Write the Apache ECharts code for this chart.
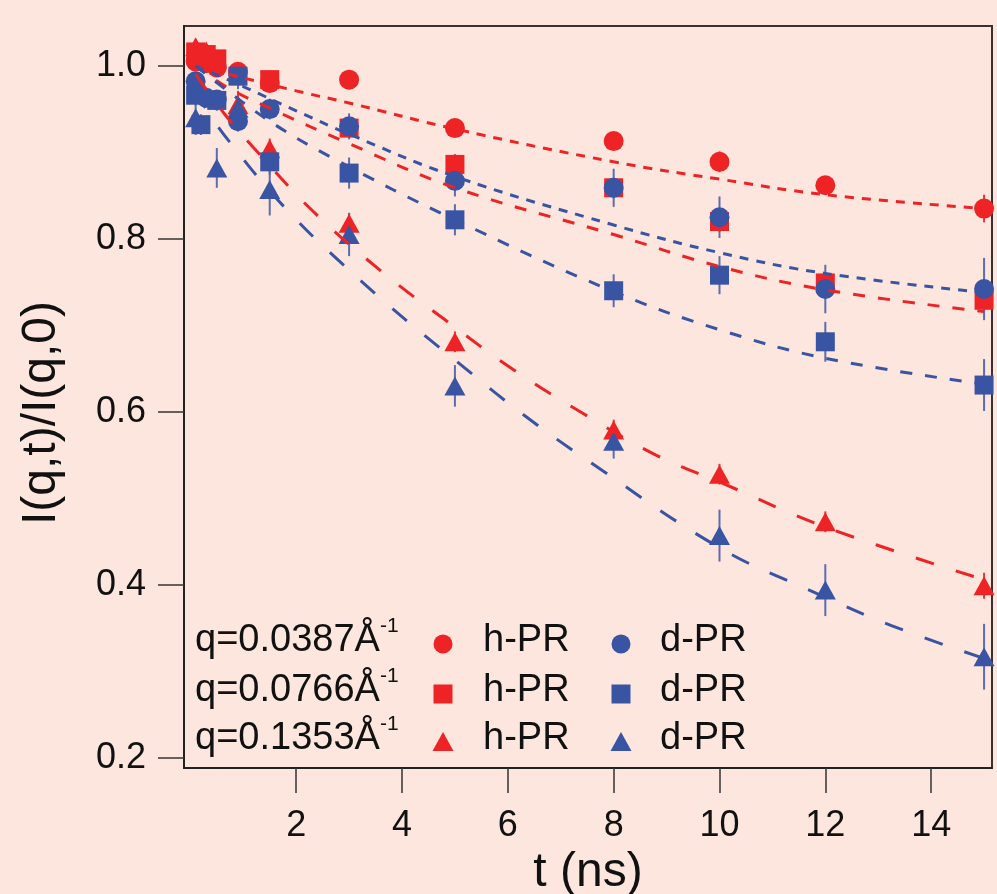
<!DOCTYPE html>
<html><head><meta charset="utf-8">
<script src="https://cdn.jsdelivr.net/npm/echarts@6/dist/echarts.min.js"></script>
<style>html,body{margin:0;padding:0;background:#FCE6DD;} #chart{width:997px;height:894px;}</style>
</head><body><div id="chart"></div>
<script>
// ---- data ----
const times = [0.1, 0.2, 0.3, 0.5, 0.9, 1.5, 3, 5, 8, 10, 12, 15];
const hPR_q1 = [1.005, null, 1.003, 0.998, 0.993, 0.980, 0.984, 0.928, 0.913, 0.889, 0.862, 0.835];
const hPR_q2 = [1.016, null, 1.013, 1.008, null, 0.984, 0.928, 0.886, 0.859, 0.820, 0.749, 0.729];
const hPR_q3 = [1.022, null, 1.017, null, 0.955, 0.904, 0.818, 0.681, 0.579, 0.528, 0.473, 0.399];
const dPR_q1 = [0.982, null, 0.963, 0.961, 0.936, 0.950, 0.930, 0.867, 0.859, 0.825, 0.742, 0.742];
const dPR_q2 = [0.966, 0.932, null, 0.960, 0.988, 0.889, 0.876, 0.822, 0.740, 0.758, 0.681, 0.631];
const dPR_q3 = [0.940, null, null, 0.882, 0.951, 0.857, 0.805, 0.630, 0.566, 0.457, 0.394, 0.317];
// error bar half-lengths
const hPR_q1_err = [0.008, 0, 0.008, 0.008, 0.008, 0.008, 0.010, 0.010, 0.010, 0.012, 0.010, 0.016];
const hPR_q2_err = [0.008, 0, 0.008, 0.008, 0, 0.010, 0.012, 0.012, 0.012, 0.012, 0.012, 0.015];
const hPR_q3_err = [0.008, 0, 0.008, 0, 0.012, 0.012, 0.012, 0.012, 0.012, 0.012, 0.012, 0.015];
const dPR_q1_err = [0.010, 0, 0.010, 0.010, 0.012, 0.012, 0.015, 0.018, 0.022, 0.024, 0.028, 0.036];
const dPR_q2_err = [0.012, 0.012, 0, 0.012, 0.015, 0.015, 0.018, 0.018, 0.019, 0.022, 0.023, 0.030];
const dPR_q3_err = [0.020, 0, 0, 0.023, 0.020, 0.030, 0.025, 0.024, 0.020, 0.030, 0.030, 0.038];
// fit curves
const fit_h1_t = [0.1, 1, 2, 3, 5, 8, 10, 12, 15];
const fit_h1_y = [1.000, 0.986, 0.971, 0.957, 0.927, 0.889, 0.869, 0.851, 0.835];
const fit_d1_t = [0.1, 1, 2, 3, 5, 8, 10, 12, 15];
const fit_d1_y = [1.000, 0.976, 0.948, 0.921, 0.872, 0.816, 0.784, 0.760, 0.738];
const fit_h2_t = [0.1, 0.7, 1.5, 3, 5, 8, 10, 12, 15];
const fit_h2_y = [1.000, 0.975, 0.951, 0.910, 0.859, 0.805, 0.768, 0.741, 0.716];
const fit_d2_t = [0.1, 1.4, 2.7, 5, 8, 10, 12, 15];
const fit_d2_y = [1.000, 0.940, 0.893, 0.822, 0.739, 0.695, 0.662, 0.632];
const fit_h3_t = [0.1, 0.65, 1.2, 2.3, 3.6, 4.8, 6.1, 7.4, 8.8, 10, 12, 15];
const fit_h3_y = [0.990, 0.944, 0.905, 0.833, 0.763, 0.707, 0.649, 0.599, 0.550, 0.519, 0.467, 0.406];
const fit_d3_t = [0.1, 0.46, 0.95, 1.35, 1.88, 2.45, 3.77, 5.02, 6.29, 7.6, 10, 11.77, 13.25, 15];
const fit_d3_y = [0.970, 0.935, 0.896, 0.866, 0.830, 0.795, 0.722, 0.659, 0.597, 0.540, 0.443, 0.392, 0.353, 0.315];
const xTicks = [2, 4, 6, 8, 10, 12, 14];
const yTicks = [0.2, 0.4, 0.6, 0.8, 1.0];
const legendRows = ['q=0.0387Å', 'q=0.0766Å', 'q=0.1353Å'];
const legendSup = '-1';
const legendNames = ['h-PR', 'd-PR'];

// ---- styling ----
const RED = '#EE2325', BLUE = '#3A54A4';
const RED_EB = '#EE3336', BLUE_EB = '#5A6DB0';
const FONT = '"Liberation Sans", Arial, Helvetica, sans-serif';

function pts(ys) { return times.map((t, i) => ys[i] == null ? null : [t, ys[i]]).filter(p => p); }
function errs(ys, es) { return times.map((t, i) => (ys[i] == null || !es[i]) ? null : [t, ys[i], es[i]]).filter(p => p); }
function line(ts, ys) { return ts.map((t, i) => [t, ys[i]]); }

function errSeries(ys, es, color) {
  return {
    type: 'custom', data: errs(ys, es), encode: { x: 0, y: 1 }, z: 2, silent: true,
    renderItem: function (params, api) {
      const x = api.value(0), y = api.value(1), e = api.value(2);
      const a = api.coord([x, y - e]), b = api.coord([x, y + e]);
      return { type: 'line', shape: { x1: a[0], y1: a[1], x2: b[0], y2: b[1] },
               style: { stroke: color, lineWidth: 2 } };
    }
  };
}
function scat(name, ys, sym, size, color) {
  return { name: name, type: 'scatter', data: pts(ys), symbol: sym, symbolSize: size, z: 2,
           itemStyle: { color: color, opacity: 1 } };
}
function fit(ts, ys, color, dash) {
  return { type: 'line', data: line(ts, ys), smooth: 0.4, showSymbol: false, symbol: 'none', z: 5, silent: true,
           lineStyle: { color: color, width: 3, type: dash } };
}

const series = [
  errSeries(hPR_q3, hPR_q3_err, RED_EB), scat('h-PR q3', hPR_q3, 'triangle', [21, 19], RED),
  errSeries(hPR_q1, hPR_q1_err, RED_EB), scat('h-PR q1', hPR_q1, 'circle', 20, RED),
  errSeries(hPR_q2, hPR_q2_err, RED_EB), scat('h-PR q2', hPR_q2, 'rect', 19, RED),
  errSeries(dPR_q3, dPR_q3_err, BLUE_EB), scat('d-PR q3', dPR_q3, 'triangle', [21, 19], BLUE),
  errSeries(dPR_q2, dPR_q2_err, BLUE_EB), scat('d-PR q2', dPR_q2, 'rect', 19, BLUE),
  errSeries(dPR_q1, dPR_q1_err, BLUE_EB), scat('d-PR q1', dPR_q1, 'circle', 20, BLUE),
  fit(fit_h1_t, fit_h1_y, RED, [9, 8]),
  fit(fit_d1_t, fit_d1_y, BLUE, [9, 8]),
  fit(fit_h2_t, fit_h2_y, RED, [12, 13]),
  fit(fit_d2_t, fit_d2_y, BLUE, [12, 13]),
  fit(fit_h3_t, fit_h3_y, RED, [19, 23]),
  fit(fit_d3_t, fit_d3_y, BLUE, [19, 23])
];

// legend graphics
const rowY = [644, 694, 742];
const colX = [443, 621];
const textX = [483, 660];
const graphic = [];
legendRows.forEach((txt, r) => {
  graphic.push({ type: 'text', x: 195, y: rowY[r] + 16, style: { text: txt, fontSize: 38, fontFamily: FONT, fill: '#111', align: 'left', verticalAlign: 'bottom' } });
  graphic.push({ type: 'text', x: 380, y: rowY[r] - 7, style: { text: legendSup, fontSize: 21, fontFamily: FONT, fill: '#111', align: 'left', verticalAlign: 'bottom' } });
  [RED, BLUE].forEach((c, k) => {
    const cx = colX[k], cy = rowY[r];
    if (r === 0) graphic.push({ type: 'circle', shape: { cx: cx, cy: cy, r: 9.5 }, style: { fill: c } });
    if (r === 1) graphic.push({ type: 'rect', shape: { x: cx - 9.5, y: cy - 9.5, width: 19, height: 19 }, style: { fill: c } });
    if (r === 2) graphic.push({ type: 'polygon', shape: { points: [[cx, cy - 10], [cx + 10.5, cy + 9], [cx - 10.5, cy + 9]] }, style: { fill: c } });
    graphic.push({ type: 'text', x: textX[k], y: rowY[r] + 16, style: { text: legendNames[k], fontSize: 38, fontFamily: FONT, fill: '#111', align: 'left', verticalAlign: 'bottom' } });
  });
});
graphic.push({ type: 'text', x: 42, y: 413, rotation: Math.PI / 2,
  style: { text: 'I(q,t)/I(q,0)', fontSize: 48, fontFamily: FONT, fill: '#111', align: 'center', verticalAlign: 'middle' } });

const chart = echarts.init(document.getElementById('chart'), null, { renderer: 'canvas' });
chart.setOption({
  backgroundColor: '#FCE6DD',
  animation: false,
  textStyle: { fontFamily: FONT },
  grid: { left: 184, right: 5, top: 26, bottom: 126, containLabel: false, outerBoundsMode: 'none',
          show: true, borderColor: '#3a3232', borderWidth: 2, backgroundColor: 'transparent' },
  xAxis: {
    type: 'value', min: -0.12, max: 15.15,
    splitLine: { show: false },
    axisLine: { onZero: false, lineStyle: { color: '#222', width: 2 } },
    axisTick: { show: true, length: 25, lineStyle: { color: '#333', width: 1.5 }, customValues: xTicks },
    axisLabel: { fontSize: 36, color: '#111', margin: 40, customValues: xTicks, fontFamily: FONT, formatter: v => String(v) },
    name: 't (ns)', nameLocation: 'middle', nameGap: 76,
    nameTextStyle: { fontSize: 48, color: '#111', fontFamily: FONT }
  },
  yAxis: {
    type: 'value', min: 0.1884, max: 1.046,
    splitLine: { show: false },
    axisLine: { onZero: false, lineStyle: { color: '#222', width: 2 } },
    axisTick: { show: true, length: 26, lineStyle: { color: '#333', width: 1.5 }, customValues: yTicks },
    axisLabel: { fontSize: 36, color: '#111', margin: 38, customValues: yTicks, fontFamily: FONT, formatter: v => Number(v).toFixed(1) }
  },
  graphic: graphic,
  series: series
});
</script></body></html>
